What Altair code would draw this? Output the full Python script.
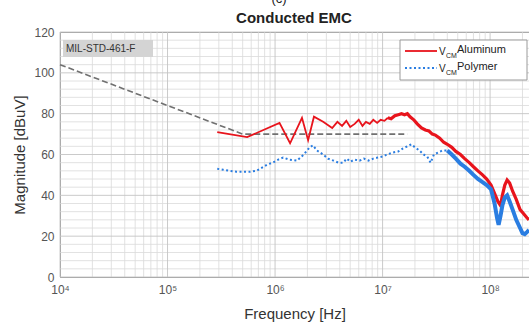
import altair as alt
import pandas as pd

# ---------------- data ----------------
limit_f = [1e4, 5e5, 1.7e7]
limit_db = [104, 70, 70]

al_f = [2.9e5, 5.5e5, 1.1e6, 1.38e6, 1.78e6, 2.03e6, 2.3e6, 2.8e6, 3.4e6, 3.8e6,
        4.2e6, 4.6e6, 5.0e6, 5.5e6, 6.0e6, 6.5e6, 7.0e6, 7.6e6, 8.2e6, 8.9e6,
        9.6e6, 1.04e7, 1.12e7, 1.2e7, 1.3e7, 1.4e7, 1.5e7, 1.6e7, 1.7e7, 1.8e7,
        1.95e7, 2.1e7, 2.3e7, 2.5e7, 2.7e7, 2.9e7, 3.1e7, 3.4e7, 3.7e7, 4.0e7,
        4.4e7, 4.8e7, 5.3e7, 5.8e7, 6.4e7, 7.0e7, 7.7e7, 8.5e7, 9.3e7, 1.02e8,
        1.1e8, 1.18e8, 1.25e8, 1.3e8, 1.37e8, 1.44e8, 1.52e8, 1.62e8, 1.75e8,
        1.9e8, 2.05e8, 2.2e8, 2.3e8]
al_db = [71, 68.5, 75.5, 65.5, 78, 67, 78.5, 76, 73, 76,
         74, 76.5, 73.5, 75, 77, 74, 76, 75, 77, 75.5,
         77, 76.5, 78, 77.5, 79, 79.5, 80, 79.5, 80, 78.5,
         77, 75, 73, 72, 71.5, 70, 69.5, 68, 66, 65,
         63.5, 61.5, 60, 58, 56, 54, 52, 50, 48, 45,
         41, 37, 35, 40, 45, 47.5, 46, 42, 38,
         33, 31, 29, 28]

po_f = [2.9e5, 3.3e5, 3.8e5, 4.4e5, 5.0e5, 5.8e5, 6.7e5, 7.5e5, 8.4e5, 9.5e5,
        1.07e6, 1.19e6, 1.35e6, 1.6e6, 1.85e6, 2.1e6, 2.25e6, 2.45e6, 2.8e6, 3.1e6,
        3.5e6, 3.9e6, 4.3e6, 4.65e6, 5.0e6, 5.5e6, 6.1e6, 6.7e6, 7.4e6, 8.2e6,
        9.0e6, 1.0e7, 1.1e7, 1.25e7, 1.4e7, 1.55e7, 1.7e7, 1.85e7, 2.0e7, 2.2e7,
        2.4e7, 2.6e7, 2.8e7, 3.0e7, 3.3e7, 3.6e7, 4.0e7, 4.4e7, 4.8e7, 5.3e7,
        5.8e7, 6.4e7, 7.0e7, 7.7e7, 8.5e7, 9.3e7, 1.02e8, 1.1e8, 1.16e8, 1.2e8,
        1.25e8, 1.3e8, 1.37e8, 1.44e8, 1.52e8, 1.62e8, 1.75e8, 1.9e8, 2.0e8,
        2.1e8, 2.2e8, 2.3e8]
po_db = [53, 52.5, 52, 51.5, 51.5, 51.5, 52, 53.5, 55, 56,
         57.5, 58.5, 57.5, 57, 60, 63.5, 64.5, 62, 60, 58,
         57, 56, 56, 58, 56.5, 57.5, 57, 58, 57, 58,
         58.5, 59, 60, 61, 61.5, 63, 64, 65, 63.5, 62,
         60, 59, 56, 60, 61, 62, 62, 60, 58, 55.5,
         54, 52, 50, 48, 46.5, 45, 43, 36, 29, 25.5,
         30, 35, 39, 40, 37, 33, 28, 24, 21.5,
         21, 22, 23]

x_major = [1e4, 1e5, 1e6, 1e7, 1e8]
x_minor = [k * 10 ** d for d in range(4, 9) for k in range(2, 10) if k * 10 ** d <= 2.3e8]
y_major = list(range(0, 121, 20))
y_minor = [v for v in range(0, 121, 4) if v % 20]

# ---------------- layout ----------------
W, H = 469, 245
L, T = 60, 32
xs = alt.Scale(type="log", domain=[1e4, 2.3e8], nice=False)
ys = alt.Scale(domain=[0, 120], nice=False)

RED = "#e8141c"
BLUE = "#2a7de1"
FONT = "Liberation Sans"

one = pd.DataFrame({"a": [0]})

sup = "['⁰','¹','²','³','⁴','⁵','⁶','⁷','⁸','⁹'][round(log(datum.value)/LN10)]"

x_axis = alt.Axis(values=x_major, labelExpr="'10' + " + sup, title="Frequency [Hz]",
                  grid=False, ticks=False, labelFontSize=12, labelColor="#555",
                  labelFont=FONT, labelPadding=7, labelFlush=False, titleFont=FONT,
                  titleFontSize=15, titleFontWeight="normal", titleColor="#333",
                  titlePadding=11, domainColor="#999")
y_axis = alt.Axis(values=y_major, title="Magnitude [dBuV]", grid=False, ticks=False,
                  labelFontSize=12, labelColor="#555", labelFont=FONT, labelPadding=6,
                  labelFlush=False, titleFont=FONT, titleFontSize=15,
                  titleFontWeight="normal", titleColor="#333", titlePadding=6,
                  domainColor="#999")

X = alt.X("f:Q", scale=xs, axis=x_axis)
Y = alt.Y("db:Q", scale=ys, axis=y_axis)

gx_minor = alt.Chart(pd.DataFrame({"f": x_minor})).mark_rule(
    color="#d9d9d9", strokeWidth=0.8).encode(x=X)
gx_major = alt.Chart(pd.DataFrame({"f": x_major})).mark_rule(
    color="#c4c4c4", strokeWidth=0.9).encode(x=X)
gy_minor = alt.Chart(pd.DataFrame({"db": y_minor})).mark_rule(
    color="#dadada", strokeWidth=0.8).encode(y=Y)
gy_major = alt.Chart(pd.DataFrame({"db": y_major})).mark_rule(
    color="#c4c4c4", strokeWidth=0.9).encode(y=Y)

limit = alt.Chart(pd.DataFrame({"f": limit_f, "db": limit_db})).mark_line(
    color="#707070", strokeWidth=1.6, strokeDash=[6, 3]).encode(x=X, y=Y)

al = pd.DataFrame({"f": al_f, "db": al_db})
po = pd.DataFrame({"f": po_f, "db": po_db})

al_lo = alt.Chart(al[al.f <= 1.12e7]).mark_line(color=RED, strokeWidth=1.8).encode(x=X, y=Y)
al_hi = alt.Chart(al[al.f >= 1.12e7]).mark_line(color=RED, strokeWidth=3.2).encode(x=X, y=Y)
po_lo = alt.Chart(po[po.f <= 4.0e7]).mark_line(color=BLUE, strokeWidth=2,
                                               strokeDash=[2, 2.5]).encode(x=X, y=Y)
po_hi = alt.Chart(po[po.f >= 4.0e7]).mark_line(color=BLUE, strokeWidth=4).encode(x=X, y=Y)

# ------------- annotations (pixel positions in the plot area) -------------
def px(x):
    return alt.value(x - L)


def py(y):
    return alt.value(y - T)


def text(t, x, y, size, **kw):
    return alt.Chart(one).mark_text(text=t, fontSize=size, font=FONT, **kw).encode(
        x=px(x), y=py(y))


title = text("Conducted EMC", 294, 18, 15, fontWeight="bold", color="#222",
             align="center", baseline="middle")
cap = text("(c)", 279, 6, 13, color="#222", align="center", baseline="bottom")

mil_box = alt.Chart(one).mark_rect(fill="#d4d4d4").encode(
    x=px(63), x2=px(153), y=py(40), y2=py(57))
mil_txt = text("MIL-STD-461-F", 66, 49, 10, color="#333", align="left", baseline="middle")

leg_box = alt.Chart(one).mark_rect(fill="white", stroke="#9a9a9a", strokeWidth=1).encode(
    x=px(400), x2=px(527), y=py(40), y2=py(80))
leg_r = alt.Chart(one).mark_rule(color=RED, strokeWidth=1.8).encode(
    x=px(405), x2=px(437), y=py(51))
leg_b = alt.Chart(one).mark_rule(color=BLUE, strokeWidth=2, strokeDash=[2, 2.5]).encode(
    x=px(405), x2=px(437), y=py(68))
leg_texts = []
for yy, name in [(51, "Aluminum"), (68, "Polymer")]:
    leg_texts.append(text("V", 439, yy + 4, 10, color="#222", align="left", baseline="alphabetic"))
    leg_texts.append(text("CM", 446, yy + 7, 7, color="#222", align="left", baseline="alphabetic"))
    leg_texts.append(text(name, 457, yy + 2, 11, color="#222", align="left", baseline="alphabetic"))

chart = alt.layer(
    gx_minor, gy_minor, gx_major, gy_major, limit, al_lo, al_hi, po_lo, po_hi,
    title, cap, mil_box, mil_txt, leg_box, leg_r, leg_b, *leg_texts
).properties(
    width=W, height=H,
    padding={"left": L, "top": T, "right": 0, "bottom": 327 - T - H},
    autosize=alt.AutoSizeParams(type="none"),
).configure_view(stroke="#999", strokeWidth=1)

chart.save("out.html", embed_options={"renderer": "svg", "actions": False})
